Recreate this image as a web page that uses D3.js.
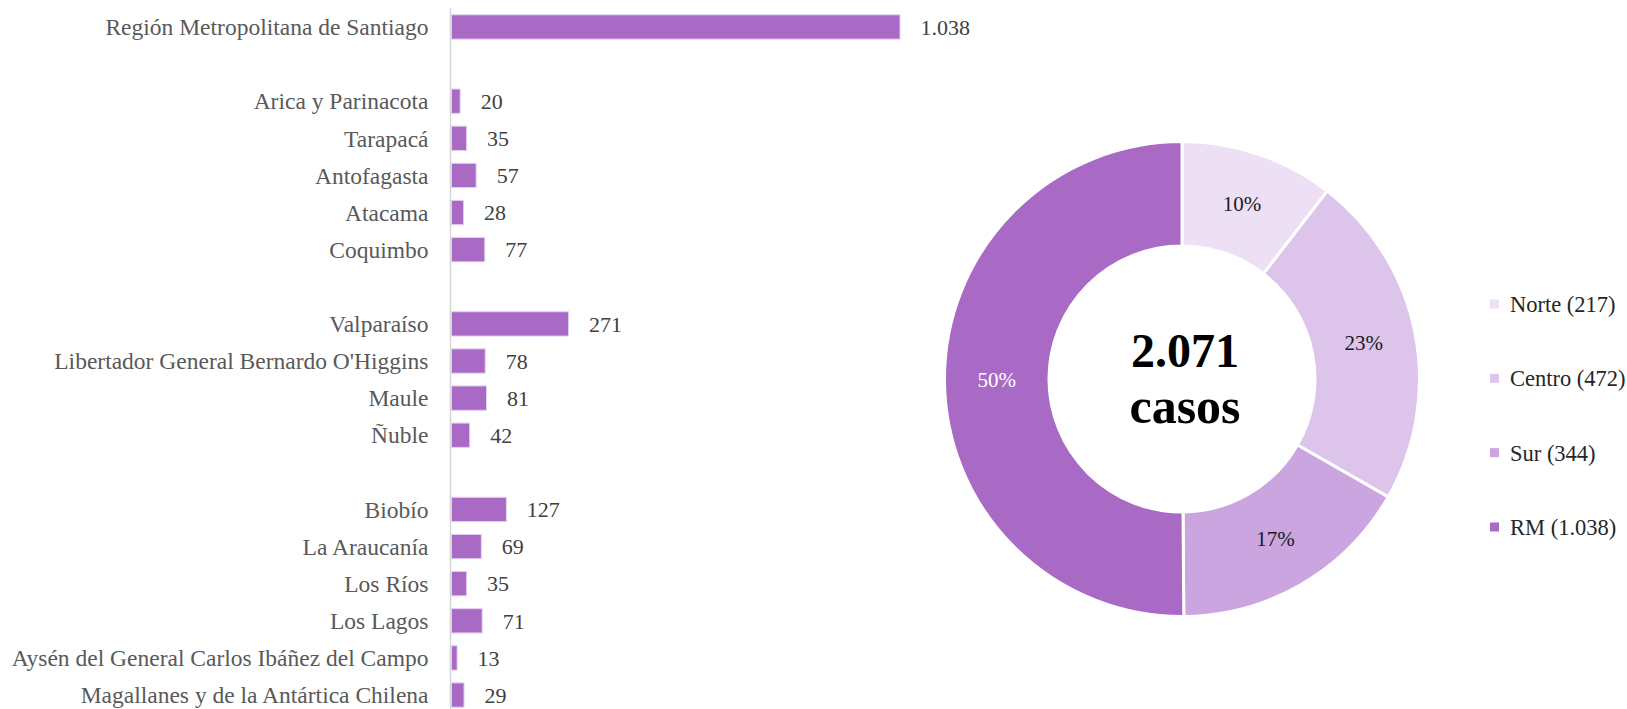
<!DOCTYPE html>
<html>
<head>
<meta charset="utf-8">
<script src="https://cdn.jsdelivr.net/npm/d3@7"></script>
<style>
  body { margin: 0; background: #fff; }
  text { font-family: "Liberation Serif", "Times New Roman", serif; }
</style>
</head>
<body>
<div id="chart"></div>
<script>
// data (blank rows separate the zones)
var regions = [
  "Región Metropolitana de Santiago", " ",
  "Arica y Parinacota", "Tarapacá", "Antofagasta", "Atacama", "Coquimbo", "  ",
  "Valparaíso", "Libertador General Bernardo O'Higgins", "Maule", "Ñuble", "   ",
  "Biobío", "La Araucanía", "Los Ríos", "Los Lagos",
  "Aysén del General Carlos Ibáñez del Campo", "Magallanes y de la Antártica Chilena"
];
var cases = [
  1038, null,
  20, 35, 57, 28, 77, null,
  271, 78, 81, 42, null,
  127, 69, 35, 71, 13, 29
];

var zones = ["Norte", "Centro", "Sur", "RM"];
var zoneCases = [217, 472, 344, 1038];
var zoneColors = ["#ede0f4", "#dcc4ea", "#cba5df", "#a96ac6"];
var totalLabel = ["2.071", "casos"];

// svg
var svgWidth = 1627;
var svgHeight = 709;

var $svg = d3
  .select("#chart")
  .append("svg")
  .attr("width", svgWidth)
  .attr("height", svgHeight);

var es = d3.formatLocale({ decimal: ",", thousands: ".", grouping: [3], currency: ["$", ""] });
var fmt = es.format(",d");

// ---- bar chart ----
var axisX = 450.5;

var yScale = d3
  .scaleBand()
  .domain(regions)
  .range([2, 720])
  .padding(0.345);

var xScale = d3
  .scaleLinear()
  .domain([0, 1038])
  .range([axisX + 1, 900]);

var barData = regions.map(function(r, i) { return { region: r, value: cases[i] }; });
var realBars = barData.filter(function(d) { return d.value !== null; });

var barGroup = $svg.append("g");

barGroup
  .selectAll("rect")
  .data(realBars)
  .enter()
  .append("rect")
  .attr("x", xScale(0))
  .attr("y", d => yScale(d.region))
  .attr("width", d => xScale(d.value) - xScale(0))
  .attr("height", yScale.bandwidth())
  .attr("fill", "#a96ac6")
  .attr("stroke", "#e3d0ef")
  .attr("stroke-width", 1);

// axis line
barGroup
  .append("line")
  .attr("x1", axisX)
  .attr("x2", axisX)
  .attr("y1", 8)
  .attr("y2", svgHeight)
  .attr("stroke", "#d6d6d6")
  .attr("stroke-width", 1.5);

// category labels
barGroup
  .selectAll("text.cat")
  .data(realBars)
  .enter()
  .append("text")
  .classed("cat", true)
  .attr("x", axisX - 22)
  .attr("y", d => yScale(d.region) + yScale.bandwidth() / 2)
  .attr("dy", "0.35em")
  .attr("text-anchor", "end")
  .attr("font-size", "23.5px")
  .attr("fill", "#595959")
  .text(d => d.region);

// value labels
barGroup
  .selectAll("text.val")
  .data(realBars)
  .enter()
  .append("text")
  .classed("val", true)
  .attr("x", d => xScale(d.value) + 20.5)
  .attr("y", d => yScale(d.region) + yScale.bandwidth() / 2)
  .attr("dy", "0.35em")
  .attr("font-size", "22px")
  .attr("fill", "#404040")
  .text(d => fmt(d.value));

// ---- donut ----
var cx = 1182, cy = 379;
var outerR = 237.5, innerR = 133;
var total = d3.sum(zoneCases);

var pieData = d3.pie().sort(null)(zoneCases);
var arc = d3.arc().innerRadius(innerR).outerRadius(outerR);
var labelArc = d3.arc().innerRadius((innerR + outerR) / 2).outerRadius((innerR + outerR) / 2);

var donut = $svg.append("g").attr("transform", `translate(${cx}, ${cy})`);

donut
  .selectAll("path")
  .data(pieData)
  .enter()
  .append("path")
  .attr("d", arc)
  .attr("fill", (d, i) => zoneColors[i])
  .attr("stroke", "#fff")
  .attr("stroke-width", 3);

donut
  .selectAll("text.pct")
  .data(pieData)
  .enter()
  .append("text")
  .classed("pct", true)
  .attr("transform", d => `translate(${labelArc.centroid(d)})`)
  .attr("dy", "0.35em")
  .attr("text-anchor", "middle")
  .attr("font-size", "21px")
  .attr("fill", (d, i) => i === 3 ? "#ffffff" : "#1a1a1a")
  .text(d => Math.round(d.value / total * 100) + "%");

// center text
donut
  .append("text")
  .attr("x", 3)
  .attr("y", -12)
  .attr("text-anchor", "middle")
  .attr("font-size", "48px")
  .attr("font-weight", "bold")
  .attr("fill", "#000")
  .text(totalLabel[0]);

donut
  .append("text")
  .attr("x", 3)
  .attr("y", 44)
  .attr("text-anchor", "middle")
  .attr("font-size", "50px")
  .attr("font-weight", "bold")
  .attr("fill", "#000")
  .text(totalLabel[1]);

// ---- legend ----
var legendY = d3
  .scalePoint()
  .domain(zones)
  .range([304, 527]);

var legend = $svg
  .selectAll("g.legend")
  .data(zones)
  .enter()
  .append("g")
  .classed("legend", true)
  .attr("transform", d => `translate(1490, ${legendY(d)})`);

legend
  .append("rect")
  .attr("x", 0)
  .attr("y", -4.5)
  .attr("width", 9)
  .attr("height", 9)
  .attr("fill", (d, i) => zoneColors[i]);

legend
  .append("text")
  .attr("x", 20)
  .attr("y", 0)
  .attr("dy", "0.35em")
  .attr("font-size", "22.5px")
  .attr("fill", "#262626")
  .text((d, i) => d + " (" + fmt(zoneCases[i]) + ")");
</script>
</body>
</html>
